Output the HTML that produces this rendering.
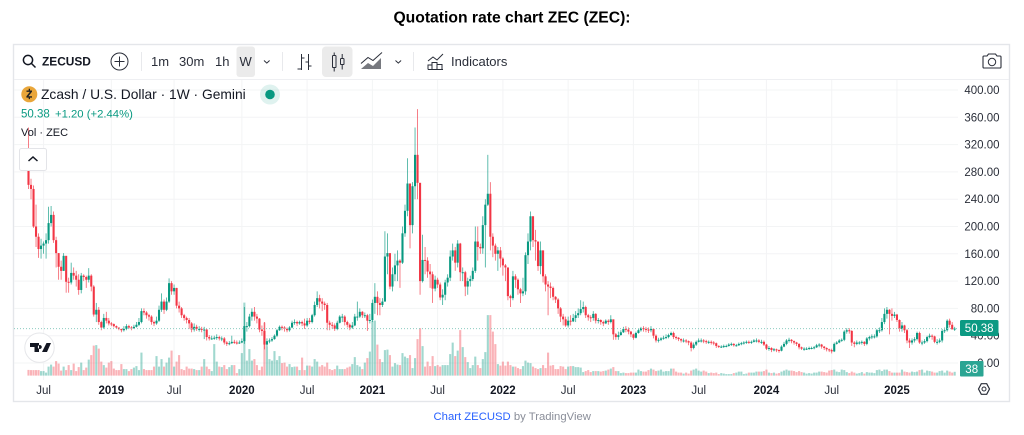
<!DOCTYPE html>
<html lang="en">
<head>
<meta charset="utf-8">
<title>Quotation rate chart ZEC (ZEC)</title>
<style>
html,body{margin:0;padding:0;background:#fff;width:1024px;height:435px;overflow:hidden}
svg{display:block;font-family:"Liberation Sans",sans-serif}
text{fill:#131722}
.tb{font-size:13px;fill:#2a2e39}
.ax{font-size:11.5px;fill:#2a2e39}
.ic{fill:none;stroke:#2a2e39;stroke-width:1}
</style>
</head>
<body>
<svg id="root" width="1024" height="435" viewBox="0 0 1024 435">
  <text x="512" y="22.5" text-anchor="middle" font-size="15.7" font-weight="700" fill="#000" style="fill:#000">Quotation rate chart ZEC (ZEC):</text>

  <g>
    <rect x="13.5" y="44.5" width="996" height="357" fill="#fff" stroke="#e4e6ea" stroke-width="1.4"/>
    <line x1="14" y1="79.5" x2="1009" y2="79.5" stroke="#eeeff2"/>

    <g id="grid"></g>
    <g id="volumes"></g>
    <g id="candles"></g>
    <line id="lastLine" x1="14" x2="958" stroke="#8ccbc0" stroke-width="1" stroke-dasharray="1 2"/>
    <g id="yAxis"></g>
    <g id="xAxis"></g>

    <!-- toolbar -->
    <g>
      <circle cx="28" cy="60" r="4.6" class="ic" style="stroke-width:1.5;stroke:#131722"/>
      <line x1="31.5" y1="63.5" x2="35.5" y2="67.5" stroke="#131722" stroke-width="1.5"/>
      <text x="42" y="65.5" font-size="11.9" font-weight="700">ZECUSD</text>
    </g>
    <g>
      <circle cx="119.5" cy="61.5" r="8.5" class="ic"/>
      <path d="M119.5 56.5v10M114.5 61.5h10" class="ic"/>
    </g>
    <line x1="141.5" y1="52" x2="141.5" y2="71" stroke="#e8e9ec"/>
    <text x="151" y="66" class="tb">1m</text>
    <text x="179" y="66" class="tb">30m</text>
    <text x="215" y="66" class="tb">1h</text>
    <rect x="236.5" y="46.5" width="18.5" height="30.5" rx="3" fill="#ebebeb"/>
    <text x="245.7" y="66" text-anchor="middle" class="tb">W</text>
    <path d="M264 60.5l2.8 2.6 2.8-2.6" class="ic"/>
    <line x1="282.5" y1="52" x2="282.5" y2="71" stroke="#e8e9ec"/>
    <g>
      <path d="M301.5 54v16M301.5 69h-4M301.5 58h3M308.5 54v16M308.5 62h-3M308.5 66h3" class="ic"/>
    </g>
    <rect x="322" y="46.5" width="30.5" height="30.5" rx="4" fill="#ebebeb"/>
    <g>
      <rect x="332.5" y="55.5" width="3.5" height="12" rx=".8" class="ic"/>
      <path d="M334.2 52.5v3M334.2 67.5v4" class="ic"/>
      <rect x="340.5" y="58.5" width="3.5" height="6" rx=".8" class="ic"/>
      <path d="M342.2 54v4.5M342.2 64.5v5" class="ic"/>
    </g>
    <g>
      <path d="M361 69l7-6 5 3 8-8v11h-20z" fill="#77797f"/>
      <path d="M361 63.5l7-6 5 3 9-8" class="ic"/>
    </g>
    <path d="M395.5 60.5l2.8 2.6 2.8-2.6" class="ic"/>
    <line x1="413.5" y1="52" x2="413.5" y2="71" stroke="#e8e9ec"/>
    <g>
      <path d="M428 61l5-4 4 3 6-6" class="ic"/>
      <path d="M428 69.5v-4.500h4v4.500M432 69.500v-7h5v7M437 69.500v-5h5v5M428 69.500h15" class="ic"/>
      <text x="451" y="66" class="tb">Indicators</text>
    </g>
    <g>
      <path d="M984 56h3l1.500-2h7l1.500 2h3a1 1 0 0 1 1 1v10a1 1 0 0 1-1 1h-16a1 1 0 0 1-1-1v-10a1 1 0 0 1 1-1z" class="ic" style="stroke-width:1.100"/>
      <circle cx="992" cy="62" r="3.700" class="ic"/>
    </g>

    <!-- legend -->
    <g>
      <circle cx="29.300" cy="94.300" r="8" fill="#e9a63a"/>
      <path d="M26.500 90.500h5.500v1.300l-3.600 4.400h3.600v1.400h-5.600v-1.300l3.500-4.400h-3.400zM28.700 88.800h1.300v1.700h-1.300zM28.700 97.600h1.300v1.500h-1.300z" fill="#222"/>
      <text x="41" y="98.800" font-size="13.800" fill="#131722">Zcash / U.S. Dollar · 1W · Gemini</text>
      <circle cx="270" cy="94.500" r="10" fill="#089981" opacity=".13"/>
      <circle cx="270" cy="94.500" r="4.800" fill="#089981"/>
      <text x="21" y="117.500" font-size="11.500" style="fill:#089981">50.38</text>
      <text x="55" y="117.500" font-size="11.300" style="fill:#089981">+1.20 (+2.44%)</text>
      <text x="21" y="136" font-size="11" fill="#131722">Vol · ZEC</text>
    </g>
    <g>
      <rect x="19.500" y="148.500" width="27" height="22" rx="2" fill="#fff" stroke="#e3e4e8"/>
      <path d="M28.500 161l4.500-4 4.500 4" fill="none" stroke="#131722" stroke-width="1.500"/>
    </g>
    <g>
      <circle cx="39.500" cy="347.700" r="14.700" fill="#fff" stroke="#e6e7ea"/>
      <path d="M30 343h9v9h-4.500v-5H30zM46.500 343h4.500l-4 9h-5zM39.800 345a2 2 0 1 0 .01 0z" fill="#131722"/>
    </g>

    <!-- right side tags -->
    <g id="lastTag">
      <rect x="960" y="320" width="38.500" height="16" rx="1.500" fill="#0c9a83"/>
      <text x="979.200" y="332" text-anchor="middle" class="ax" style="fill:#fff">50.38</text>
    </g>
    <g id="volTag">
      <rect x="960" y="361" width="23.500" height="15.500" rx="1" fill="#2ba593"/>
      <text x="971.700" y="373" text-anchor="middle" class="ax" style="fill:#fff">38</text>
    </g>
    <g>
      <path d="M978.500 389l2.800-5.300h5.400l2.800 5.300-2.800 5.300h-5.400z" fill="none" stroke="#2a2e39" stroke-width="1.200"/>
      <circle cx="984" cy="389" r="2" fill="none" stroke="#2a2e39"/>
    </g>
  </g>

  <text x="433.500" y="420" font-size="11.300"><tspan style="fill:#2962ff">Chart ZECUSD</tspan><tspan style="fill:#8a8e99"> by TradingView</tspan></text>
</svg>

<script>
// Weekly ZEC/USD values, first bar onward.
const firstOpen = 310;
const closes = [
261,255,200,185,167,172,175,180,205,217,
180,161,141,135,157,119,118,132,128,122,
107,128,126,122,128,112,71,78,60,52,
66,62,58,57,54,52,50,48,50,54,
52,51,53,56,60,76,74,70,68,60,
58,62,78,90,78,90,117,105,110,84,
80,70,66,63,58,49,53,50,50,49,
49,38,36,36,37,38,36,36,30,28,
29,31,30,29,30,32,54,54,68,75,
68,65,49,47,27,32,33,35,40,48,
53,52,50,48,52,59,60,58,60,58,
55,62,60,70,85,95,90,87,85,59,
56,55,50,59,68,68,60,56,52,55,
68,68,75,70,70,62,63,88,97,88,
85,90,156,161,112,130,143,150,147,190,
223,263,202,259,305,264,120,151,150,134,
130,109,122,115,96,100,118,125,156,165,
147,175,133,133,112,120,123,135,178,170,
168,202,232,248,185,172,160,165,153,143,
140,98,95,127,122,108,102,105,158,178,
215,180,178,142,165,127,115,112,110,97,
93,80,68,64,55,62,61,66,70,73,
79,82,70,67,66,72,62,63,60,58,
62,60,64,42,38,41,45,50,49,46,
42,37,44,48,51,50,49,48,50,40,
33,34,36,37,38,41,44,38,37,35,
33,33,32,30,22,27,31,33,33,32,
31,31,30,29,25,24,24,25,25,27,
28,26,26,28,29,30,31,30,31,33,
33,31,31,27,21,22,19,20,19,18,
24,28,33,34,32,30,28,23,21,21,
21,22,22,23,26,27,24,22,20,19,
17,28,30,33,34,46,48,47,30,28,
30,30,31,28,36,38,39,39,48,48,
60,72,78,72,69,71,63,50,55,48,
33,30,33,35,44,30,30,32,38,40,
39,31,31,33,47,48,62,56,49.18,50.38];
const highs = [
345,270,260,232,190,182,178,190,229,230,
222,185,161,150,161,157,125,147,140,135,
130,132,130,128,139,130,114,88,82,62,
72,75,66,60,58,55,52,50,54,57,
56,54,56,60,66,80,80,76,72,70,
62,68,84,102,93,96,124,120,115,110,
90,82,72,68,66,60,58,56,54,53,
53,50,41,40,40,42,40,39,38,32,
32,40,34,33,33,36,82,60,72,80,
82,72,66,55,60,36,36,38,42,50,
55,55,54,52,54,62,64,62,62,62,
65,66,66,72,90,105,100,95,90,88,
62,60,58,62,70,72,70,62,58,60,
72,90,80,76,74,72,72,93,117,105,
95,95,193,190,160,140,160,165,152,200,
232,300,250,265,345,372,264,188,170,155,
145,134,128,125,118,108,122,130,165,175,
170,180,176,140,135,125,128,140,200,200,
175,215,240,305,265,190,175,170,170,155,
145,140,100,135,130,124,110,125,162,190,
222,215,195,178,178,165,130,120,118,112,
98,95,82,72,68,68,70,72,76,80,
92,90,84,72,70,76,73,66,64,62,
64,64,70,62,44,46,48,53,54,52,
47,43,46,50,53,54,53,52,54,50,
42,37,38,40,42,43,46,46,40,38,
36,36,35,33,32,30,33,36,36,35,
34,33,33,32,30,26,26,27,27,29,
30,29,28,30,31,32,33,33,33,35,
36,35,34,33,28,25,23,22,21,20,
26,31,35,37,35,33,31,29,24,23,
23,24,24,25,28,29,28,25,23,21,
21,30,32,35,36,48,51,51,48,32,
33,32,33,32,38,40,42,42,50,52,
66,80,82,79,80,75,72,64,60,56,
50,36,36,38,46,46,33,35,40,43,
42,40,35,36,50,52,64,65,60,53];
const lows = [
255,240,198,170,154,153,160,153,175,200,
176,140,122,122,135,103,103,115,122,112,
100,102,120,110,118,105,68,60,56,48,
50,58,55,54,52,50,48,45,46,48,
50,48,50,52,54,58,70,65,62,56,
54,56,60,75,72,76,88,100,100,80,
74,66,62,58,50,45,46,47,46,45,
35,33,33,34,34,34,33,32,27,25,
26,28,28,27,28,29,28,46,52,62,
62,58,45,40,20,24,29,31,34,38,
47,48,46,45,46,51,56,54,56,54,
50,53,57,58,68,82,80,76,78,48,
48,50,47,48,58,60,55,52,48,50,
54,62,66,66,66,47,58,60,72,70,
70,82,90,130,108,105,120,120,110,145,
185,215,168,190,240,240,100,118,130,125,
110,88,105,110,92,85,92,112,120,150,
135,140,120,120,98,100,112,120,132,150,
160,160,140,230,165,155,150,135,140,128,
120,92,82,92,110,100,88,98,100,145,
165,170,150,135,130,118,105,70,95,92,
88,72,60,55,53,52,55,60,60,66,
70,74,66,62,60,62,58,58,56,54,
57,56,58,34,34,34,40,44,45,42,
38,34,36,43,46,46,45,44,45,36,
30,30,32,34,35,36,40,35,34,32,
30,30,29,26,17,20,25,30,30,29,
28,28,27,26,22,22,22,22,23,24,
25,24,24,25,26,27,28,28,28,30,
30,29,28,25,19,18,16,17,16,15,
17,23,26,30,29,27,25,20,19,18,
19,19,20,20,22,23,21,19,17,16,
14,16,27,29,31,32,43,43,25,23,
26,27,27,25,26,33,35,36,37,44,
46,57,65,42,62,66,60,46,46,44,
29,22,27,30,33,28,26,28,30,36,
34,29,27,29,30,44,46,52,50,47];
const volumes = [
57,55,55,55,55,45,45,30,90,110,
90,145,120,50,90,55,105,55,120,45,
85,130,55,80,160,205,300,305,270,140,
105,80,130,145,70,55,55,115,65,65,
45,65,80,95,55,230,65,55,55,55,
90,195,90,165,90,130,180,250,90,140,
205,65,55,90,70,70,65,55,55,90,
165,90,65,45,315,140,90,85,105,65,
85,105,105,25,65,225,730,150,265,150,
165,105,55,90,530,290,165,150,245,155,
195,125,130,90,115,85,90,90,55,180,
55,100,100,90,165,140,90,105,90,130,
65,55,65,100,65,65,65,80,90,115,
185,105,90,65,130,175,240,550,550,310,
165,135,255,260,205,90,125,110,105,225,
190,175,205,75,175,365,475,295,90,140,
95,195,95,105,90,105,105,105,215,330,
195,250,455,285,185,135,75,105,190,105,
75,165,235,605,605,440,315,115,100,140,
100,140,105,90,90,75,65,95,150,130,
125,90,75,65,75,105,75,230,100,105,
65,65,95,90,65,90,95,95,85,85,
80,35,45,55,35,45,45,45,40,45,
50,60,70,85,45,45,25,30,25,25,
30,30,30,60,45,40,40,55,70,60,
45,50,60,40,45,45,70,70,40,30,
30,20,30,20,50,60,70,50,40,50,
40,25,30,25,30,15,25,20,15,15,
15,25,30,40,40,15,20,30,30,30,
40,40,40,45,60,30,25,30,20,25,
40,50,60,50,50,45,35,45,35,30,
20,25,20,30,30,40,40,35,30,50,
55,60,40,35,60,55,35,25,40,30,
20,25,35,20,35,30,30,25,55,60,
45,60,60,45,30,30,30,30,60,40,
35,30,40,35,40,55,60,30,50,45,
40,30,30,45,50,30,50,40,30,38];
const priceTicks = [400,360,320,280,240,200,160,120,80,40,0];
const priceTickLabels = ["400.00","360.00","320.00","280.00","240.00","200.00","160.00","120.00","80.00","40.00","0.00"];
const timeTickBars = [6,33,58,85,111,137,163,189,215,241,267,294,320,346];
const timeTickLabels = ["Jul","2019","Jul","2020","Jul","2021","Jul","2022","Jul","2023","Jul","2024","Jul","2025"];
const lastPrice = 50.38;

const NS = 'http://www.w3.org/2000/svg';
const UP = '#089981', DOWN = '#f23645';
const xScale = i => 28.5 + 2.51 * i;
const yScale = p => 363 - p * 0.6825;
const volHeight = v => v * 0.1;
const VOL_BASE = 375.6;

function mk(parent, tag, attrs) {
  const el = document.createElementNS(NS, tag);
  for (const k in attrs) el.setAttribute(k, attrs[k]);
  parent.appendChild(el);
  return el;
}

const grid = document.getElementById('grid');
priceTicks.forEach(p => {
  const ln = mk(grid, 'line', {x1: 14, x2: 958, y1: yScale(p), y2: yScale(p), stroke: '#f3f4f5'});
  
  
});
timeTickBars.forEach(b => {
  const ln = mk(grid, 'line', {x1: xScale(b), x2: xScale(b), y1: 80, y2: 380, stroke: '#f3f4f5'});
  
  
});

const volG = document.getElementById('volumes');
const candleG = document.getElementById('candles');
closes.forEach((c, i) => {
  const o = i === 0 ? firstOpen : closes[i - 1];
  const up = c >= o;
  const col = up ? UP : DOWN;
  const x = xScale(i);

  const h = volHeight(volumes[i]);
  const vb = mk(volG, 'rect', {x: x - 1.05, y: VOL_BASE - h, width: 2.1, height: h, fill: col, opacity: 0.38});
  
  

  const wick = mk(candleG, 'line', {x1: x, x2: x, y1: yScale(highs[i]), y2: yScale(lows[i]), stroke: col, 'stroke-width': 0.8, opacity: 0.8});
  
  

  const top = yScale(Math.max(o, c));
  const bh = Math.max(yScale(Math.min(o, c)) - top, 1);
  const body = mk(candleG, 'rect', {x: x - 1.05, y: top, width: 2.1, height: bh, fill: col});
  
  
});

const lastLine = document.getElementById('lastLine');
lastLine.setAttribute('y1', yScale(lastPrice));
lastLine.setAttribute('y2', yScale(lastPrice));

const yAxis = document.getElementById('yAxis');
priceTicks.forEach((p, k) => {
  const t = mk(yAxis, 'text', {x: 999.5, y: yScale(p) + 4, 'text-anchor': 'end', class: 'ax'});
  t.textContent = priceTickLabels[k];
  
  
});

const xAxis = document.getElementById('xAxis');
timeTickBars.forEach((b, k) => {
  const isYear = /^\d/.test(timeTickLabels[k]);
  const t = mk(xAxis, 'text', {x: xScale(b), y: 394, 'text-anchor': 'middle', class: 'ax'});
  if (isYear) t.setAttribute('font-weight', '700');
  if (isYear) t.style.fill = '#131722';
  t.textContent = timeTickLabels[k];
  
  
});
</script>
</body>
</html>
